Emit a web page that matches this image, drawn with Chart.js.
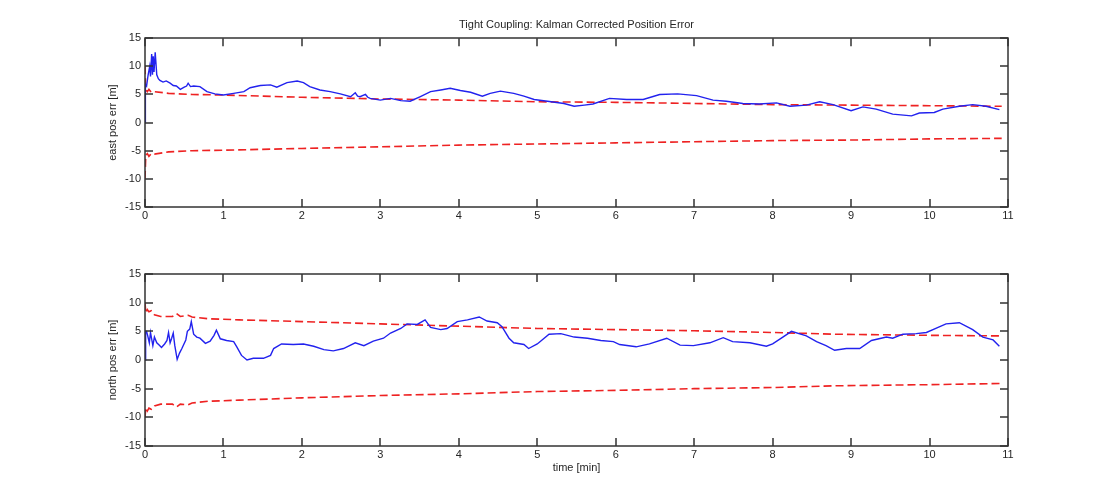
<!DOCTYPE html>
<html lang="en">
<head>
    <meta charset="UTF-8">
    <title>Tight Coupling: Kalman Corrected Position Error</title>
    <script src="https://cdn.jsdelivr.net/npm/chart.js@4/dist/chart.umd.min.js"></script>
    <style>
        body { margin: 0; background: #fff; }
        .plot { position: absolute; left: 0; }
    </style>
</head>
<body>
    <div class="plot" style="top:0px"><canvas id="eastChart" width="1115" height="235"></canvas></div>
    <div class="plot" style="top:240px"><canvas id="northChart" width="1115" height="260"></canvas></div>

    <script>
        // east error (blue) and +/- sigma bounds (red dashed), time in minutes
        const eastTime = [0, 0.005, 0.02, 0.04, 0.06, 0.07, 0.085, 0.095, 0.105, 0.115,
            0.13, 0.15, 0.17, 0.19, 0.23, 0.27, 0.32, 0.36, 0.40, 0.45,
            0.50, 0.53, 0.55, 0.58, 0.62, 0.70, 0.79, 0.89, 1.0, 1.13,
            1.26, 1.34, 1.47, 1.6, 1.68, 1.81, 1.94, 2.02, 2.1, 2.23,
            2.36, 2.49, 2.62, 2.68, 2.71, 2.74, 2.81, 2.84, 2.87, 3.0,
            3.13, 3.26, 3.38, 3.51, 3.64, 3.77, 3.89, 4.02, 4.15, 4.30,
            4.40, 4.53, 4.70, 4.83, 4.96, 5.13, 5.34, 5.47, 5.6, 5.71,
            5.92, 6.14, 6.35, 6.56, 6.79, 7.03, 7.24, 7.41, 7.62, 7.83,
            8.05, 8.22, 8.43, 8.6, 8.77, 9.0, 9.15, 9.32, 9.53, 9.77,
            9.87, 10.06, 10.17, 10.38, 10.55, 10.72, 10.89];
        const eastErr = [0, 6.8, 6.5, 8.5, 10.0, 8.2, 12.2, 8.5, 11.8, 9.0,
            12.5, 8.5, 7.8, 7.5, 7.2, 7.4, 7.0, 6.6, 6.5, 5.9,
            6.3, 6.5, 7.0, 6.4, 6.5, 6.4, 5.5, 5.1, 4.9, 5.2,
            5.5, 6.2, 6.6, 6.7, 6.3, 7.1, 7.4, 7.1, 6.4, 5.8,
            5.5, 5.1, 4.6, 5.3, 4.7, 4.6, 5.0, 4.5, 4.3, 4.0,
            4.3, 3.9, 3.8, 4.6, 5.5, 5.8, 6.1, 5.7, 5.4, 4.7,
            5.2, 5.6, 5.2, 4.7, 4.1, 3.8, 3.4, 2.9, 3.1, 3.3,
            4.3, 4.1, 4.1, 5.0, 5.1, 4.8, 4.0, 3.8, 3.4, 3.3,
            3.5, 2.9, 3.1, 3.7, 3.2, 2.1, 2.8, 2.4, 1.5, 1.2,
            1.7, 1.8, 2.4, 2.9, 3.2, 2.9, 2.3];
        const eastSigTime = [0, 0.01, 0.03, 0.05, 0.08, 0.12, 0.3, 0.6, 1, 2, 3, 4, 5, 6, 7, 8, 9, 10, 10.92];
        const eastSigUp = [10, 5.8, 5.5, 5.9, 5.4, 5.5, 5.2, 5.0, 4.9, 4.5, 4.2, 4.0, 3.7, 3.6, 3.4, 3.2, 3.1, 3.0, 2.9];
        const eastSigLow = [-10, -5.8, -5.5, -6.0, -5.5, -5.6, -5.2, -5.0, -4.9, -4.6, -4.3, -4.0, -3.8, -3.6, -3.4, -3.2, -3.1, -2.9, -2.8];

        // north error and bounds
        const northTime = [0, 0.008, 0.02, 0.035, 0.055, 0.07, 0.1, 0.12, 0.15, 0.18,
            0.21, 0.25, 0.28, 0.30, 0.32, 0.34, 0.36, 0.38, 0.41, 0.44,
            0.47, 0.52, 0.54, 0.57, 0.59, 0.62, 0.66, 0.70, 0.77, 0.83,
            0.88, 0.91, 0.96, 1.04, 1.13, 1.17, 1.23, 1.30, 1.38, 1.51,
            1.6, 1.64, 1.74, 1.89, 2.02, 2.15, 2.28, 2.40, 2.53, 2.68,
            2.79, 2.91, 3.04, 3.13, 3.26, 3.34, 3.47, 3.57, 3.64, 3.77,
            3.85, 3.98, 4.11, 4.26, 4.36, 4.49, 4.55, 4.64, 4.70, 4.83,
            4.89, 5.0, 5.15, 5.30, 5.47, 5.64, 5.81, 5.97, 6.05, 6.26,
            6.43, 6.65, 6.82, 6.99, 7.2, 7.37, 7.49, 7.71, 7.92, 8.0,
            8.13, 8.24, 8.43, 8.56, 8.68, 8.79, 8.94, 9.11, 9.26, 9.45,
            9.53, 9.66, 9.83, 9.96, 10.08, 10.21, 10.38, 10.55, 10.68, 10.81,
            10.89];
        const northErr = [0, 5.0, 5.0, 4.2, 3.0, 4.8, 2.5, 4.0, 3.0, 2.6,
            2.2, 2.8, 3.4, 4.8, 3.0, 3.8, 4.7, 2.5, 0.1, 1.2,
            2.0, 3.5, 5.0, 5.4, 6.7, 4.5, 4.0, 3.8, 2.9, 3.3,
            4.3, 5.2, 3.7, 3.4, 3.2, 2.3, 0.8, 0.0, 0.3, 0.3,
            0.8, 2.0, 2.8, 2.7, 2.8, 2.4, 1.8, 1.6, 2.0, 3.0,
            2.5, 3.3, 3.8, 4.7, 5.5, 6.3, 6.2, 7.0, 5.7, 5.3,
            5.5, 6.7, 7.0, 7.5, 6.8, 6.5, 5.8, 3.8, 3.0, 2.7,
            2.0, 2.8, 4.5, 4.6, 4.0, 3.8, 3.4, 3.2, 2.7, 2.3,
            2.8, 3.8, 2.6, 2.5, 3.0, 3.9, 3.2, 3.0, 2.4, 2.8,
            4.0, 5.0, 4.2, 3.2, 2.5, 1.7, 2.0, 2.0, 3.4, 4.0,
            3.8, 4.5, 4.6, 4.8, 5.5, 6.3, 6.5, 5.3, 4.0, 3.5,
            2.4];
        const northSigTime = [0, 0.01, 0.03, 0.05, 0.08, 0.12, 0.2, 0.35, 0.4, 0.45, 0.55, 0.6, 0.8, 1.2, 2, 3, 4, 5, 6, 7, 8, 8.8, 10, 10.92];
        const northSigUp = [10, 8.2, 8.8, 8.4, 8.6, 7.9, 7.6, 7.6, 8.1, 7.6, 7.8, 7.5, 7.2, 7.0, 6.7, 6.3, 5.9, 5.5, 5.3, 5.1, 4.8, 4.5, 4.3, 4.2];
        const northSigLow = [-10, -8.3, -8.9, -8.4, -8.6, -8.0, -7.7, -7.7, -8.2, -7.7, -7.8, -7.5, -7.2, -7.0, -6.6, -6.2, -5.9, -5.5, -5.3, -5.0, -4.8, -4.5, -4.3, -4.1];

        const FONT = { family: "'Liberation Sans', Arial, sans-serif", size: 11 };
        const INK = '#262626';

        function pts(xs, ys) {
            return xs.map((t, i) => ({ x: t, y: ys[i] }));
        }

        // matlab style box with inward ticks on all four sides
        const boxTicks = {
            id: 'boxTicks',
            afterDraw(chart) {
                const { ctx, chartArea: a, scales } = chart;
                const len = 8;
                ctx.save();
                ctx.setLineDash([]);
                ctx.strokeStyle = '#333';
                ctx.lineWidth = 1.5;
                ctx.beginPath();
                scales.x.ticks.forEach(tk => {
                    const px = Math.round(scales.x.getPixelForValue(tk.value));
                    ctx.moveTo(px, a.bottom); ctx.lineTo(px, a.bottom - len);
                    ctx.moveTo(px, a.top); ctx.lineTo(px, a.top + len);
                });
                scales.y.ticks.forEach(tk => {
                    const py = Math.round(scales.y.getPixelForValue(tk.value));
                    ctx.moveTo(a.left, py); ctx.lineTo(a.left + len, py);
                    ctx.moveTo(a.right, py); ctx.lineTo(a.right - len, py);
                });
                ctx.stroke();
                ctx.strokeRect(Math.round(a.left), Math.round(a.top),
                    Math.round(a.right - a.left), Math.round(a.bottom - a.top));
                ctx.restore();
            }
        };

        function makeChart(id, err, sigUp, sigLow, opts) {
            return new Chart(document.getElementById(id), {
                type: 'line',
                data: {
                    datasets: [
                        { data: pts(opts.time, err), borderColor: '#2222ee', borderWidth: 1.4 },
                        { data: pts(opts.sigTime, sigUp), borderColor: '#ee2222', borderWidth: 1.6, borderDash: [8, 4] },
                        { data: pts(opts.sigTime, sigLow), borderColor: '#ee2222', borderWidth: 1.6, borderDash: [8, 4] }
                    ]
                },
                options: {
                    responsive: false,
                    animation: false,
                    parsing: false,
                    elements: { point: { radius: 0 }, line: { tension: 0 } },
                    layout: { padding: { left: 0, right: 107, top: opts.padTop, bottom: 0 } },
                    plugins: {
                        legend: { display: false },
                        tooltip: { enabled: false },
                        title: {
                            display: !!opts.title,
                            text: opts.title,
                            fullSize: false,
                            color: INK,
                            font: { family: FONT.family, size: 11, weight: 'normal' },
                            padding: { top: 18, bottom: 7 }
                        }
                    },
                    scales: {
                        x: {
                            type: 'linear', min: 0, max: 11,
                            grid: { drawOnChartArea: false, drawTicks: false },
                            border: { display: false },
                            ticks: { stepSize: 1, color: INK, font: FONT, padding: 2, maxRotation: 0 },
                            title: {
                                display: !!opts.xTitle, text: opts.xTitle, color: INK, font: FONT,
                                padding: { top: 0, bottom: 25 }
                            },
                            afterFit: s => { s.height = opts.xHeight; }
                        },
                        y: {
                            min: -15, max: 15,
                            grid: { drawOnChartArea: false, drawTicks: false },
                            border: { display: false },
                            ticks: { stepSize: 5, color: INK, font: FONT, padding: 4 },
                            title: {
                                display: true, text: opts.yTitle, color: INK, font: FONT,
                                padding: { top: 106, bottom: 0 }
                            },
                            afterFit: s => { s.width = 145; }
                        }
                    }
                },
                plugins: [boxTicks]
            });
        }

        makeChart('eastChart', eastErr, eastSigUp, eastSigLow, {
            time: eastTime, sigTime: eastSigTime,
            title: 'Tight Coupling: Kalman Corrected Position Error',
            yTitle: 'east pos err [m]', xTitle: '',
            padTop: 0, xHeight: 28
        });

        makeChart('northChart', northErr, northSigUp, northSigLow, {
            time: northTime, sigTime: northSigTime,
            title: '',
            yTitle: 'north pos err [m]', xTitle: 'time [min]',
            padTop: 34, xHeight: 54
        });
    </script>
</body>
</html>
